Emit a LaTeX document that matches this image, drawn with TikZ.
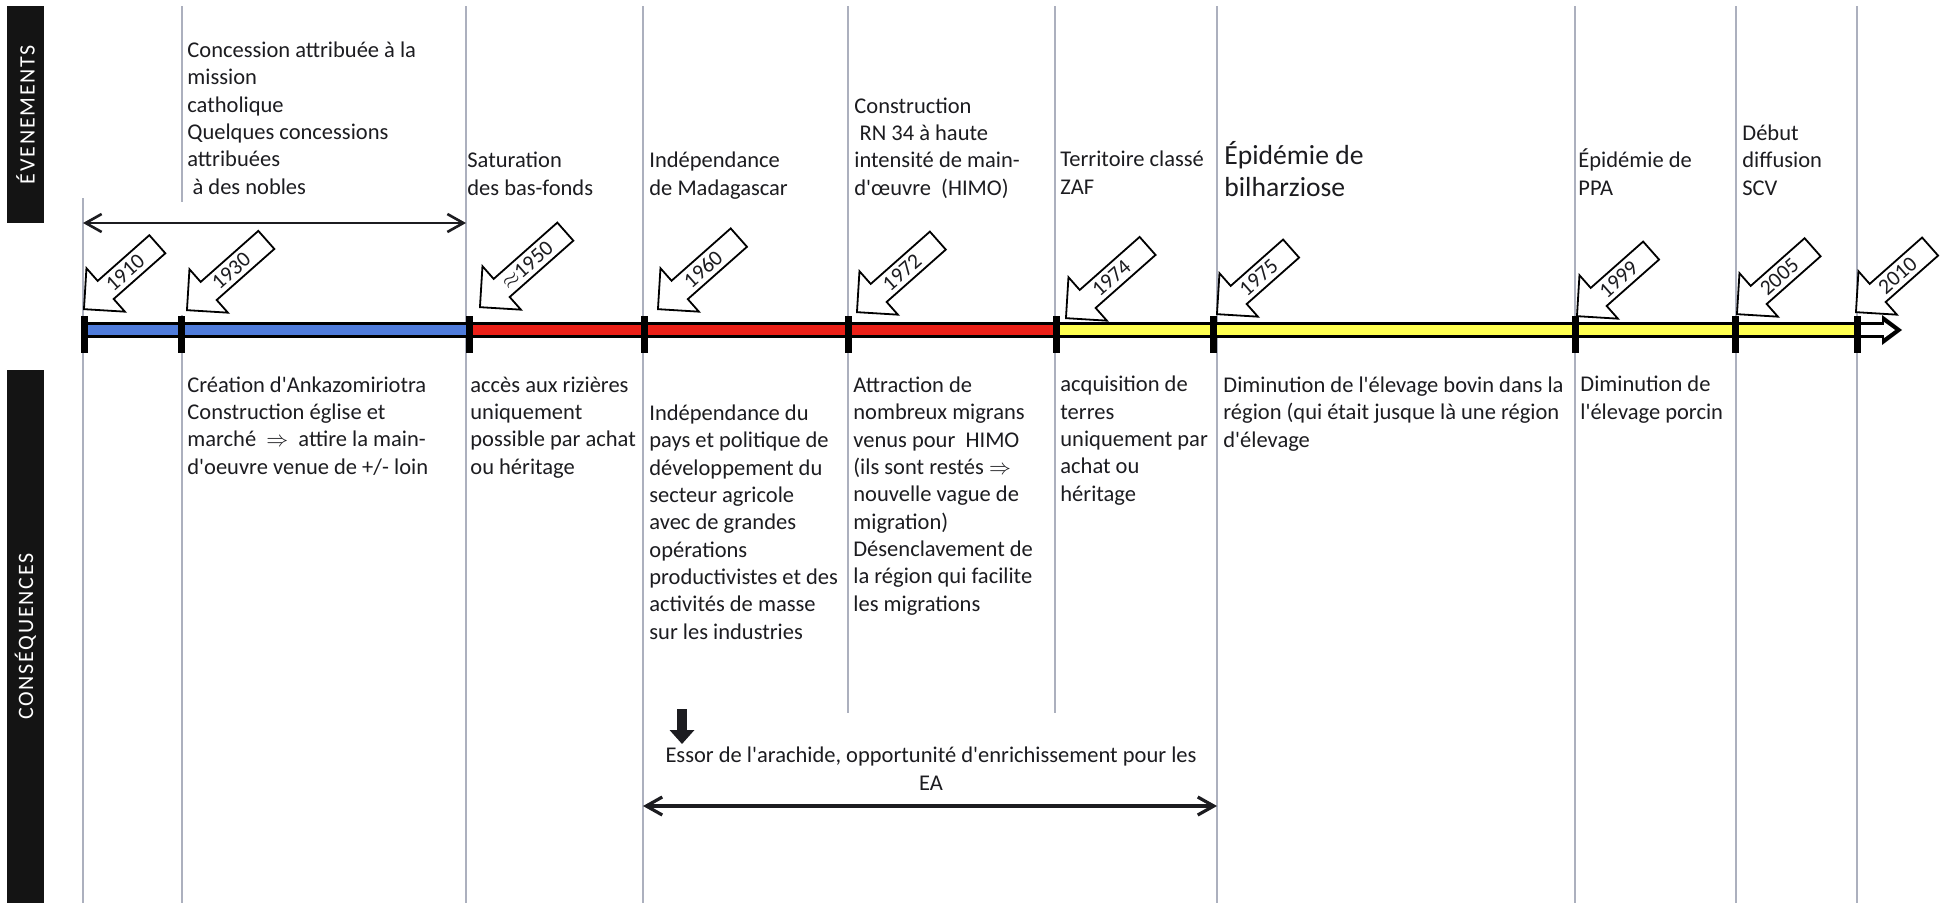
\documentclass[tikz,border=0pt]{standalone}
\usepackage{fontspec}
\setmainfont{Carlito}[Ligatures=TeXOff]
\usetikzlibrary{arrows.meta,shapes.arrows}

\definecolor{gridgray}{RGB}{172,176,190}
\definecolor{barblue}{RGB}{79,124,219}
\definecolor{barred}{RGB}{236,32,24}
\definecolor{baryellow}{RGB}{255,255,80}
\definecolor{inkdark}{RGB}{28,28,32}

\tikzset{
  txt/.style={anchor=base west, align=left, inner sep=0pt, text=inkdark,
    font=\fontsize{11.25}{13.65}\selectfont},
  sidebox/.style={fill=black!92, minimum height=18.5pt, inner sep=0pt, text=white,
    rotate=90, font=\fontsize{11}{12}\selectfont\addfontfeature{LetterSpace=8}},
  gridline/.style={draw=gridgray, line width=0.8pt},
  tickmark/.style={fill=black, minimum width=3.5pt, minimum height=18.5pt, inner sep=0pt},
  yeararrow/.style={single arrow, draw=black, fill=white, line width=0.9pt,
    shape border rotate=180, rotate=41.5, anchor=tip, inner sep=1pt,
    single arrow head extend=7pt, single arrow tip angle=90, minimum width=29pt,
    font=\fontsize{10.8}{12}\selectfont, text=inkdark},
  spanarrow/.style={{Straight Barb[length=8pt,width=9pt]}-{Straight Barb[length=8pt,width=9pt]},
    line width=1.3pt, draw=inkdark}
}

\begin{document}
\begin{tikzpicture}[x=0.5pt, y=-0.5pt]
  \useasboundingbox (0,0) rectangle (1944,907);
  \fill[white] (0,0) rectangle (1944,907);

  % side labels
  \node[sidebox, minimum width=108.5pt] (evts) at (25.5,114.5) {ÉVENEMENTS};
  \node[sidebox, minimum width=266.5pt] (csqs) at (25.5,636.5) {CONSÉQUENCES};

  % column lines
  \foreach \gx in {466,643,1217,1575,1736,1857}
    \draw[gridline] (\gx,6) -- (\gx,903);
  \foreach \gx in {848,1055}
    \draw[gridline] (\gx,6) -- (\gx,713);
  \draw[gridline] (83,198) -- (83,903);
  \draw[gridline] (182,6) -- (182,202) (182,315) -- (182,903);

  % timeline
  \coordinate (b1910) at (84,330);
  \coordinate (b1930) at (181,330);
  \coordinate (b1950) at (469,330);
  \coordinate (b1960) at (644,330);
  \coordinate (b1972) at (848,330);
  \coordinate (b1974) at (1056,330);
  \coordinate (b1975) at (1213,330);
  \coordinate (b1999) at (1575,330);
  \coordinate (b2005) at (1735,330);
  \coordinate (b2010) at (1857,330);
  \coordinate (bend) at (1886,330);

  \draw[line width=8pt] (b1910) -- (bend);
  \fill (1882,315) -- (1902,330) -- (1882,345) -- cycle;
  \draw[barblue, line width=5pt] (b1910) -- (b1950);
  \draw[barred, line width=5pt] (b1950) -- (b1974);
  \draw[baryellow, line width=5pt] (b2010) -- (b1974);
  \draw[white, line width=5pt] (b2010) -- (bend);
  \fill[white] (1884,322) -- (1895,330) -- (1884,338) -- cycle;

  \foreach \yr in {1910,1930,1950,1960,1972,1974,1975,1999,2005,2010}
    \node[tickmark] (t\yr) at ([yshift=-2pt]b\yr) {};

  % year markers
  \node[yeararrow, minimum height=49pt] (m1910) at (83,310) {1910};
  \node[yeararrow, minimum height=53pt] (m1930) at (186,311) {1930};
  \node[yeararrow, minimum height=57pt] (m1950) at (479,308) {$\approx$1950};
  \node[yeararrow, minimum height=54pt] (m1960) at (657,310) {1960};
  \node[yeararrow, minimum height=54pt] (m1972) at (856,313) {1972};
  \node[yeararrow, minimum height=54.5pt] (m1974) at (1065,319) {1974};
  \node[yeararrow, minimum height=49.5pt] (m1975) at (1216,315) {1975};
  \node[yeararrow, minimum height=49.5pt] (m1999) at (1576,317) {1999};
  \node[yeararrow, minimum height=50.5pt] (m2005) at (1736,315) {2005};
  \node[yeararrow, minimum height=49.5pt] (m2010) at (1855,313) {2010};

  % events (placed by the baseline of their last line)
  \node[txt] (ev1930) at (187,194) {Concession attribuée à la\\mission\\catholique\\Quelques concessions\\attribuées\\\hspace*{.23em}à des nobles};
  \node[txt] (ev1950) at (467,195) {Saturation\\des bas-fonds};
  \node[txt] (ev1960) at (649,195) {Indépendance\\de Madagascar};
  \node[txt] (ev1972) at (854,195) {Construction\\\hspace*{.23em}RN 34 à haute\\intensité de main-\\d'œuvre~ (HIMO)};
  \node[txt] (ev1974) at (1060,194) {Territoire classé\\ZAF};
  \node[txt, font=\fontsize{13.8}{16}\selectfont] (ev1975) at (1224,196) {Épidémie de\\bilharziose};
  \node[txt] (ev1999) at (1578,195) {Épidémie de\\PPA};
  \node[txt] (ev2005) at (1742,195) {Début\\diffusion\\SCV};

  \coordinate (spanL) at (83,223);
  \coordinate (spanR) at (466,223);
  \draw[spanarrow] (spanL) -- (spanR);

  % consequences
  \node[txt] (cq1930) at (187,474) {Création d'Ankazomiriotra\\Construction église et\\marché~ $\Rightarrow$~ attire la main-\\d'oeuvre venue de +/- loin};
  \node[txt] (cq1950) at (470,474) {accès aux rizières\\uniquement\\possible par achat\\ou héritage};
  \node[txt] (cq1960) at (649,639) {Indépendance du\\pays et politique de\\développement du\\secteur agricole\\avec de grandes\\opérations\\productivistes et des\\activités de masse\\sur les industries};
  \node[txt] (cq1972) at (853,611) {Attraction de\\nombreux migrans\\venus pour~ HIMO\\(ils sont restés $\Rightarrow$\\nouvelle vague de\\migration)\\Désenclavement de\\la région qui facilite\\les migrations};
  \node[txt] (cq1974) at (1060,501) {acquisition de\\terres\\uniquement par\\achat ou\\héritage};
  \node[txt] (cq1975) at (1223,447) {Diminution de l'élevage bovin dans la\\région (qui était jusque là une région\\d'élevage};
  \node[txt] (cq1999) at (1580,419) {Diminution de\\l'élevage porcin};

  \coordinate (downtop) at (682,709);
  \coordinate (downbot) at (682,744);
  \draw[draw=inkdark, line width=5pt, -{Triangle[length=7pt,width=12pt]}] (downtop) -- (downbot);
  \node[txt, anchor=base, align=center] (essor) at (931,790) {Essor de l'arachide, opportunité d'enrichissement pour les\\EA};

  \coordinate (arachL) at (643,806);
  \coordinate (arachR) at (1217,806);
  \draw[spanarrow, line width=1.6pt] (arachL) -- (arachR);
\end{tikzpicture}
\end{document}
